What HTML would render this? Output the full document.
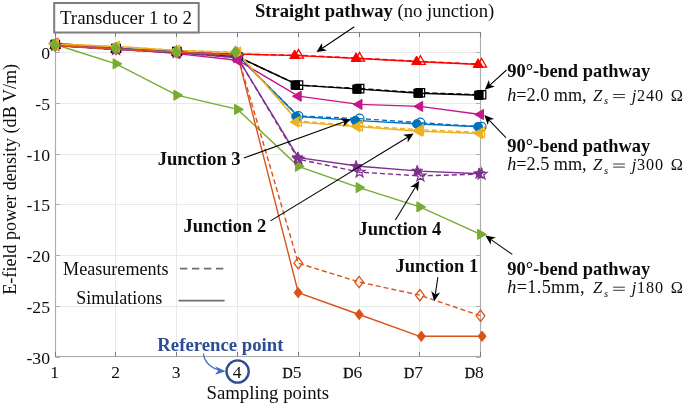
<!DOCTYPE html>
<html><head><meta charset="utf-8"><title>chart</title>
<style>
html,body{margin:0;padding:0;background:#fff;}
body{width:685px;height:406px;overflow:hidden;font-family:"Liberation Serif",serif;}
svg{display:block;will-change:transform;}
</style></head><body>
<svg width="685" height="406" viewBox="0 0 685 406" font-family="'Liberation Serif', serif" fill="#0d0d0d">
<rect x="0" y="0" width="685" height="406" fill="#fff"/>
<line x1="115.5" y1="32.5" x2="115.5" y2="356.5" stroke="#e9e9e9" stroke-width="1"/>
<line x1="176.5" y1="32.5" x2="176.5" y2="356.5" stroke="#e9e9e9" stroke-width="1"/>
<line x1="237.5" y1="32.5" x2="237.5" y2="356.5" stroke="#e9e9e9" stroke-width="1"/>
<line x1="298.5" y1="32.5" x2="298.5" y2="356.5" stroke="#e9e9e9" stroke-width="1"/>
<line x1="359.5" y1="32.5" x2="359.5" y2="356.5" stroke="#e9e9e9" stroke-width="1"/>
<line x1="419.5" y1="32.5" x2="419.5" y2="356.5" stroke="#e9e9e9" stroke-width="1"/>
<line x1="55.3" y1="52.5" x2="480.6" y2="52.5" stroke="#e9e9e9" stroke-width="1"/>
<line x1="55.3" y1="103.5" x2="480.6" y2="103.5" stroke="#e9e9e9" stroke-width="1"/>
<line x1="55.3" y1="154.5" x2="480.6" y2="154.5" stroke="#e9e9e9" stroke-width="1"/>
<line x1="55.3" y1="204.5" x2="480.6" y2="204.5" stroke="#e9e9e9" stroke-width="1"/>
<line x1="55.3" y1="255.5" x2="480.6" y2="255.5" stroke="#e9e9e9" stroke-width="1"/>
<line x1="55.3" y1="306.5" x2="480.6" y2="306.5" stroke="#e9e9e9" stroke-width="1"/>
<rect x="55.5" y="32.5" width="425" height="324.0" fill="none" stroke="#adadad" stroke-width="1.15"/>
<line x1="55" y1="32.5" x2="481" y2="32.5" stroke="#8f8f8f" stroke-width="1.1"/>
<line x1="55.5" y1="356.5" x2="55.5" y2="352.0" stroke="#7a7a7a" stroke-width="1"/>
<line x1="55.5" y1="32.5" x2="55.5" y2="37.0" stroke="#7a7a7a" stroke-width="1"/>
<line x1="115.5" y1="356.5" x2="115.5" y2="352.0" stroke="#7a7a7a" stroke-width="1"/>
<line x1="115.5" y1="32.5" x2="115.5" y2="37.0" stroke="#7a7a7a" stroke-width="1"/>
<line x1="176.5" y1="356.5" x2="176.5" y2="352.0" stroke="#7a7a7a" stroke-width="1"/>
<line x1="176.5" y1="32.5" x2="176.5" y2="37.0" stroke="#7a7a7a" stroke-width="1"/>
<line x1="237.5" y1="356.5" x2="237.5" y2="352.0" stroke="#7a7a7a" stroke-width="1"/>
<line x1="237.5" y1="32.5" x2="237.5" y2="37.0" stroke="#7a7a7a" stroke-width="1"/>
<line x1="298.5" y1="356.5" x2="298.5" y2="352.0" stroke="#7a7a7a" stroke-width="1"/>
<line x1="298.5" y1="32.5" x2="298.5" y2="37.0" stroke="#7a7a7a" stroke-width="1"/>
<line x1="359.5" y1="356.5" x2="359.5" y2="352.0" stroke="#7a7a7a" stroke-width="1"/>
<line x1="359.5" y1="32.5" x2="359.5" y2="37.0" stroke="#7a7a7a" stroke-width="1"/>
<line x1="419.5" y1="356.5" x2="419.5" y2="352.0" stroke="#7a7a7a" stroke-width="1"/>
<line x1="419.5" y1="32.5" x2="419.5" y2="37.0" stroke="#7a7a7a" stroke-width="1"/>
<line x1="480.5" y1="356.5" x2="480.5" y2="352.0" stroke="#7a7a7a" stroke-width="1"/>
<line x1="480.5" y1="32.5" x2="480.5" y2="37.0" stroke="#7a7a7a" stroke-width="1"/>
<line x1="55.5" y1="52.5" x2="60" y2="52.5" stroke="#adadad" stroke-width="1"/>
<line x1="480.5" y1="52.5" x2="476" y2="52.5" stroke="#adadad" stroke-width="1"/>
<line x1="55.5" y1="103.5" x2="60" y2="103.5" stroke="#adadad" stroke-width="1"/>
<line x1="480.5" y1="103.5" x2="476" y2="103.5" stroke="#adadad" stroke-width="1"/>
<line x1="55.5" y1="154.5" x2="60" y2="154.5" stroke="#adadad" stroke-width="1"/>
<line x1="480.5" y1="154.5" x2="476" y2="154.5" stroke="#adadad" stroke-width="1"/>
<line x1="55.5" y1="204.5" x2="60" y2="204.5" stroke="#adadad" stroke-width="1"/>
<line x1="480.5" y1="204.5" x2="476" y2="204.5" stroke="#adadad" stroke-width="1"/>
<line x1="55.5" y1="255.5" x2="60" y2="255.5" stroke="#adadad" stroke-width="1"/>
<line x1="480.5" y1="255.5" x2="476" y2="255.5" stroke="#adadad" stroke-width="1"/>
<line x1="55.5" y1="306.5" x2="60" y2="306.5" stroke="#adadad" stroke-width="1"/>
<line x1="480.5" y1="306.5" x2="476" y2="306.5" stroke="#adadad" stroke-width="1"/>
<line x1="55.5" y1="357.5" x2="60" y2="357.5" stroke="#adadad" stroke-width="1"/>
<line x1="480.5" y1="357.5" x2="476" y2="357.5" stroke="#adadad" stroke-width="1"/>
<polyline points="55.3,45.5 116.0,49.0 176.8,52.1 237.6,54.1 298.3,55.3 359.1,58.2 419.8,61.4 480.6,64.2" fill="none" stroke="#ff0000" stroke-width="1.4" stroke-dasharray="5,3"/>
<polyline points="55.3,45.5 116.0,49.0 176.8,52.1 237.6,54.1 298.3,55.6 359.1,58.5 419.8,61.7 480.6,64.5" fill="none" stroke="#ff0000" stroke-width="1.4"/>
<polyline points="55.3,44.5 116.0,48.5 176.8,51.6 237.6,56.7 298.3,85.1 359.1,88.6 419.8,92.7 480.6,94.7" fill="none" stroke="#000000" stroke-width="1.4" stroke-dasharray="5,3"/>
<polyline points="55.3,44.5 116.0,48.5 176.8,51.6 237.6,56.7 298.3,85.1 359.1,89.1 419.8,93.2 480.6,95.2" fill="none" stroke="#000000" stroke-width="1.4"/>
<polyline points="55.3,44.5 116.0,48.5 176.8,51.6 237.6,55.6 298.3,116.0 359.1,118.6 419.8,122.6 480.6,126.7" fill="none" stroke="#0072bd" stroke-width="1.4" stroke-dasharray="5,3"/>
<polyline points="55.3,44.5 116.0,48.5 176.8,51.6 237.6,55.6 298.3,116.5 359.1,120.6 419.8,124.0 480.6,126.7" fill="none" stroke="#0072bd" stroke-width="1.4"/>
<polyline points="55.3,43.0 116.0,48.5 176.8,53.6 237.6,60.2 298.3,96.2 359.1,104.4 419.8,106.4 480.6,114.5" fill="none" stroke="#c5168c" stroke-width="1.4"/>
<polyline points="55.3,44.5 116.0,63.8 176.8,95.2 237.6,109.4 298.3,166.3 359.1,187.6 419.8,206.9 480.6,234.3" fill="none" stroke="#77ac30" stroke-width="1.4"/>
<polyline points="55.3,45.5 116.0,49.6 176.8,52.6 237.6,57.7 298.3,159.2 359.1,172.1 419.8,175.9 480.6,174.1" fill="none" stroke="#7e2f8e" stroke-width="1.4" stroke-dasharray="5,3"/>
<polyline points="55.3,45.5 116.0,49.6 176.8,52.6 237.6,57.7 298.3,157.7 359.1,166.3 419.8,171.1 480.6,173.7" fill="none" stroke="#7e2f8e" stroke-width="1.4"/>
<polyline points="55.3,45.5 116.0,49.0 176.8,52.1 237.6,55.1 298.3,263.2 359.1,282.0 419.8,295.2 480.6,315.8" fill="none" stroke="#d95319" stroke-width="1.4" stroke-dasharray="5,3"/>
<polyline points="55.3,45.5 116.0,49.0 176.8,52.1 237.6,55.1 298.3,292.6 359.1,314.5 419.8,336.3 480.6,336.3" fill="none" stroke="#d95319" stroke-width="1.4"/>
<polyline points="55.3,44.0 116.0,46.5 176.8,50.4 237.6,52.4 298.3,121.1 359.1,125.7 419.8,129.7 480.6,132.3" fill="none" stroke="#edb120" stroke-width="1.4" stroke-dasharray="5,3"/>
<polyline points="55.3,44.0 116.0,46.5 176.8,50.4 237.6,52.4 298.3,122.1 359.1,126.7 419.8,131.3 480.6,133.5" fill="none" stroke="#edb120" stroke-width="1.4"/>
<polygon points="55.3,39.7 50.3,48.4 60.3,48.4" fill="#ff0000" stroke="#ff0000" stroke-width="1.0" stroke-linejoin="miter"/>
<polygon points="116.0,43.3 111.0,51.9 121.0,51.9" fill="#ff0000" stroke="#ff0000" stroke-width="1.0" stroke-linejoin="miter"/>
<polygon points="176.8,46.3 171.8,55.0 181.8,55.0" fill="#ff0000" stroke="#ff0000" stroke-width="1.0" stroke-linejoin="miter"/>
<polygon points="237.6,48.3 232.6,57.0 242.6,57.0" fill="#ff0000" stroke="#ff0000" stroke-width="1.0" stroke-linejoin="miter"/>
<polygon points="294.7,49.9 289.7,58.5 299.7,58.5" fill="#ff0000" stroke="#ff0000" stroke-width="1.0" stroke-linejoin="miter"/>
<polygon points="356.1,52.7 351.1,61.4 361.1,61.4" fill="#ff0000" stroke="#ff0000" stroke-width="1.0" stroke-linejoin="miter"/>
<polygon points="416.6,56.0 411.6,64.6 421.6,64.6" fill="#ff0000" stroke="#ff0000" stroke-width="1.0" stroke-linejoin="miter"/>
<polygon points="478.1,58.7 473.1,67.4 483.1,67.4" fill="#ff0000" stroke="#ff0000" stroke-width="1.0" stroke-linejoin="miter"/>
<polygon points="55.3,39.7 50.3,48.4 60.3,48.4" fill="none" stroke="#ff0000" stroke-width="1.25" stroke-linejoin="miter"/>
<polygon points="116.0,43.3 111.0,51.9 121.0,51.9" fill="none" stroke="#ff0000" stroke-width="1.25" stroke-linejoin="miter"/>
<polygon points="176.8,46.3 171.8,55.0 181.8,55.0" fill="none" stroke="#ff0000" stroke-width="1.25" stroke-linejoin="miter"/>
<polygon points="237.6,48.3 232.6,57.0 242.6,57.0" fill="none" stroke="#ff0000" stroke-width="1.25" stroke-linejoin="miter"/>
<polygon points="298.5,49.6 293.5,58.2 303.5,58.2" fill="none" stroke="#ff0000" stroke-width="1.25" stroke-linejoin="miter"/>
<polygon points="359.6,52.4 354.6,61.1 364.6,61.1" fill="none" stroke="#ff0000" stroke-width="1.25" stroke-linejoin="miter"/>
<polygon points="420.4,55.7 415.4,64.3 425.4,64.3" fill="none" stroke="#ff0000" stroke-width="1.25" stroke-linejoin="miter"/>
<polygon points="481.6,58.4 476.6,67.1 486.6,67.1" fill="none" stroke="#ff0000" stroke-width="1.25" stroke-linejoin="miter"/>
<polygon points="51.1,40.3 59.5,40.3 59.5,48.7 51.1,48.7" fill="#000000" stroke="#000000" stroke-width="1.0" stroke-linejoin="miter"/>
<polygon points="111.8,44.3 120.2,44.3 120.2,52.7 111.8,52.7" fill="#000000" stroke="#000000" stroke-width="1.0" stroke-linejoin="miter"/>
<polygon points="172.6,47.4 181.0,47.4 181.0,55.8 172.6,55.8" fill="#000000" stroke="#000000" stroke-width="1.0" stroke-linejoin="miter"/>
<polygon points="233.4,52.5 241.8,52.5 241.8,60.9 233.4,60.9" fill="#000000" stroke="#000000" stroke-width="1.0" stroke-linejoin="miter"/>
<polygon points="291.1,80.9 299.5,80.9 299.5,89.3 291.1,89.3" fill="#000000" stroke="#000000" stroke-width="1.0" stroke-linejoin="miter"/>
<polygon points="352.8,84.9 361.1,84.9 361.1,93.3 352.8,93.3" fill="#000000" stroke="#000000" stroke-width="1.0" stroke-linejoin="miter"/>
<polygon points="413.9,89.0 422.3,89.0 422.3,97.4 413.9,97.4" fill="#000000" stroke="#000000" stroke-width="1.0" stroke-linejoin="miter"/>
<polygon points="474.7,91.0 483.1,91.0 483.1,99.4 474.7,99.4" fill="#000000" stroke="#000000" stroke-width="1.0" stroke-linejoin="miter"/>
<polygon points="51.1,40.3 59.5,40.3 59.5,48.7 51.1,48.7" fill="none" stroke="#000000" stroke-width="1.25" stroke-linejoin="miter"/>
<polygon points="111.8,44.3 120.2,44.3 120.2,52.7 111.8,52.7" fill="none" stroke="#000000" stroke-width="1.25" stroke-linejoin="miter"/>
<polygon points="172.6,47.4 181.0,47.4 181.0,55.8 172.6,55.8" fill="none" stroke="#000000" stroke-width="1.25" stroke-linejoin="miter"/>
<polygon points="233.4,52.5 241.8,52.5 241.8,60.9 233.4,60.9" fill="none" stroke="#000000" stroke-width="1.25" stroke-linejoin="miter"/>
<polygon points="294.3,80.9 302.7,80.9 302.7,89.3 294.3,89.3" fill="none" stroke="#000000" stroke-width="1.25" stroke-linejoin="miter"/>
<polygon points="355.4,84.4 363.8,84.4 363.8,92.8 355.4,92.8" fill="none" stroke="#000000" stroke-width="1.25" stroke-linejoin="miter"/>
<polygon points="416.2,88.5 424.6,88.5 424.6,96.9 416.2,96.9" fill="none" stroke="#000000" stroke-width="1.25" stroke-linejoin="miter"/>
<polygon points="477.4,90.5 485.8,90.5 485.8,98.9 477.4,98.9" fill="none" stroke="#000000" stroke-width="1.25" stroke-linejoin="miter"/>
<circle cx="55.3" cy="44.5" r="4.4" fill="#0072bd" stroke="#0072bd" stroke-width="1.0"/>
<circle cx="116.0" cy="48.5" r="4.4" fill="#0072bd" stroke="#0072bd" stroke-width="1.0"/>
<circle cx="176.8" cy="51.6" r="4.4" fill="#0072bd" stroke="#0072bd" stroke-width="1.0"/>
<circle cx="237.6" cy="55.6" r="4.4" fill="#0072bd" stroke="#0072bd" stroke-width="1.0"/>
<circle cx="296.1" cy="116.5" r="4.4" fill="#0072bd" stroke="#0072bd" stroke-width="1.0"/>
<circle cx="355.4" cy="120.6" r="4.4" fill="#0072bd" stroke="#0072bd" stroke-width="1.0"/>
<circle cx="416.9" cy="124.0" r="4.4" fill="#0072bd" stroke="#0072bd" stroke-width="1.0"/>
<circle cx="478.1" cy="126.7" r="4.4" fill="#0072bd" stroke="#0072bd" stroke-width="1.0"/>
<circle cx="55.3" cy="44.5" r="4.4" fill="none" stroke="#0072bd" stroke-width="1.25"/>
<circle cx="116.0" cy="48.5" r="4.4" fill="none" stroke="#0072bd" stroke-width="1.25"/>
<circle cx="176.8" cy="51.6" r="4.4" fill="none" stroke="#0072bd" stroke-width="1.25"/>
<circle cx="237.6" cy="55.6" r="4.4" fill="none" stroke="#0072bd" stroke-width="1.25"/>
<circle cx="298.5" cy="116.0" r="4.4" fill="none" stroke="#0072bd" stroke-width="1.25"/>
<circle cx="359.6" cy="118.6" r="4.4" fill="none" stroke="#0072bd" stroke-width="1.25"/>
<circle cx="420.4" cy="122.6" r="4.4" fill="none" stroke="#0072bd" stroke-width="1.25"/>
<circle cx="481.6" cy="126.7" r="4.4" fill="none" stroke="#0072bd" stroke-width="1.25"/>
<polygon points="49.4,43.0 58.2,37.9 58.2,48.1" fill="#c5168c" stroke="#c5168c" stroke-width="1.0" stroke-linejoin="miter"/>
<polygon points="110.2,48.5 119.0,43.4 119.0,53.6" fill="#c5168c" stroke="#c5168c" stroke-width="1.0" stroke-linejoin="miter"/>
<polygon points="170.9,53.6 179.7,48.5 179.7,58.7" fill="#c5168c" stroke="#c5168c" stroke-width="1.0" stroke-linejoin="miter"/>
<polygon points="231.7,60.2 240.5,55.1 240.5,65.3" fill="#c5168c" stroke="#c5168c" stroke-width="1.0" stroke-linejoin="miter"/>
<polygon points="292.4,96.2 301.2,91.1 301.2,101.3" fill="#c5168c" stroke="#c5168c" stroke-width="1.0" stroke-linejoin="miter"/>
<polygon points="353.2,104.4 362.0,99.3 362.0,109.5" fill="#c5168c" stroke="#c5168c" stroke-width="1.0" stroke-linejoin="miter"/>
<polygon points="413.9,106.4 422.7,101.3 422.7,111.5" fill="#c5168c" stroke="#c5168c" stroke-width="1.0" stroke-linejoin="miter"/>
<polygon points="474.7,114.5 483.5,109.4 483.5,119.6" fill="#c5168c" stroke="#c5168c" stroke-width="1.0" stroke-linejoin="miter"/>
<polygon points="61.2,44.5 52.4,39.4 52.4,49.6" fill="#77ac30" stroke="#77ac30" stroke-width="1.0" stroke-linejoin="miter"/>
<polygon points="121.9,63.8 113.1,58.7 113.1,68.9" fill="#77ac30" stroke="#77ac30" stroke-width="1.0" stroke-linejoin="miter"/>
<polygon points="182.7,95.2 173.9,90.1 173.9,100.3" fill="#77ac30" stroke="#77ac30" stroke-width="1.0" stroke-linejoin="miter"/>
<polygon points="243.4,109.4 234.6,104.3 234.6,114.5" fill="#77ac30" stroke="#77ac30" stroke-width="1.0" stroke-linejoin="miter"/>
<polygon points="304.2,166.3 295.4,161.2 295.4,171.4" fill="#77ac30" stroke="#77ac30" stroke-width="1.0" stroke-linejoin="miter"/>
<polygon points="364.9,187.6 356.1,182.5 356.1,192.7" fill="#77ac30" stroke="#77ac30" stroke-width="1.0" stroke-linejoin="miter"/>
<polygon points="425.7,206.9 416.9,201.8 416.9,212.0" fill="#77ac30" stroke="#77ac30" stroke-width="1.0" stroke-linejoin="miter"/>
<polygon points="486.4,234.3 477.6,229.2 477.6,239.4" fill="#77ac30" stroke="#77ac30" stroke-width="1.0" stroke-linejoin="miter"/>
<polygon points="55.3,39.7 56.7,43.6 60.8,43.7 57.5,46.2 58.7,50.1 55.3,47.8 51.9,50.1 53.1,46.2 49.8,43.7 53.9,43.6" fill="#7e2f8e" stroke="#7e2f8e" stroke-width="1.0" stroke-linejoin="miter"/>
<polygon points="116.0,43.8 117.4,47.7 121.5,47.8 118.2,50.3 119.4,54.2 116.0,51.9 112.7,54.2 113.9,50.3 110.6,47.8 114.7,47.7" fill="#7e2f8e" stroke="#7e2f8e" stroke-width="1.0" stroke-linejoin="miter"/>
<polygon points="176.8,46.9 178.2,50.7 182.3,50.8 179.0,53.3 180.2,57.3 176.8,54.9 173.4,57.3 174.6,53.3 171.3,50.8 175.4,50.7" fill="#7e2f8e" stroke="#7e2f8e" stroke-width="1.0" stroke-linejoin="miter"/>
<polygon points="237.6,51.9 238.9,55.8 243.0,55.9 239.7,58.4 240.9,62.3 237.6,60.0 234.2,62.3 235.4,58.4 232.1,55.9 236.2,55.8" fill="#7e2f8e" stroke="#7e2f8e" stroke-width="1.0" stroke-linejoin="miter"/>
<polygon points="297.6,151.9 299.0,155.8 303.1,155.9 299.8,158.4 301.0,162.3 297.6,160.0 294.2,162.3 295.4,158.4 292.1,155.9 296.2,155.8" fill="#7e2f8e" stroke="#7e2f8e" stroke-width="1.0" stroke-linejoin="miter"/>
<polygon points="356.1,160.5 357.4,164.4 361.5,164.5 358.2,167.0 359.4,170.9 356.1,168.6 352.7,170.9 353.9,167.0 350.6,164.5 354.7,164.4" fill="#7e2f8e" stroke="#7e2f8e" stroke-width="1.0" stroke-linejoin="miter"/>
<polygon points="417.2,165.3 418.6,169.2 422.7,169.3 419.4,171.8 420.6,175.7 417.2,173.4 413.8,175.7 415.0,171.8 411.7,169.3 415.8,169.2" fill="#7e2f8e" stroke="#7e2f8e" stroke-width="1.0" stroke-linejoin="miter"/>
<polygon points="479.1,167.9 480.4,171.8 484.5,171.9 481.2,174.4 482.4,178.3 479.1,176.0 475.7,178.3 476.9,174.4 473.6,171.9 477.7,171.8" fill="#7e2f8e" stroke="#7e2f8e" stroke-width="1.0" stroke-linejoin="miter"/>
<polygon points="55.3,39.7 56.7,43.6 60.8,43.7 57.5,46.2 58.7,50.1 55.3,47.8 51.9,50.1 53.1,46.2 49.8,43.7 53.9,43.6" fill="none" stroke="#7e2f8e" stroke-width="1.25" stroke-linejoin="miter"/>
<polygon points="116.0,43.8 117.4,47.7 121.5,47.8 118.2,50.3 119.4,54.2 116.0,51.9 112.7,54.2 113.9,50.3 110.6,47.8 114.7,47.7" fill="none" stroke="#7e2f8e" stroke-width="1.25" stroke-linejoin="miter"/>
<polygon points="176.8,46.9 178.2,50.7 182.3,50.8 179.0,53.3 180.2,57.3 176.8,54.9 173.4,57.3 174.6,53.3 171.3,50.8 175.4,50.7" fill="none" stroke="#7e2f8e" stroke-width="1.25" stroke-linejoin="miter"/>
<polygon points="237.6,51.9 238.9,55.8 243.0,55.9 239.7,58.4 240.9,62.3 237.6,60.0 234.2,62.3 235.4,58.4 232.1,55.9 236.2,55.8" fill="none" stroke="#7e2f8e" stroke-width="1.25" stroke-linejoin="miter"/>
<polygon points="298.5,153.4 299.9,157.3 304.0,157.4 300.7,159.9 301.9,163.8 298.5,161.5 295.1,163.8 296.3,159.9 293.0,157.4 297.1,157.3" fill="none" stroke="#7e2f8e" stroke-width="1.25" stroke-linejoin="miter"/>
<polygon points="359.6,166.3 360.9,170.2 365.0,170.3 361.7,172.8 362.9,176.7 359.6,174.4 356.2,176.7 357.4,172.8 354.1,170.3 358.2,170.2" fill="none" stroke="#7e2f8e" stroke-width="1.25" stroke-linejoin="miter"/>
<polygon points="420.4,170.2 421.8,174.1 425.9,174.1 422.6,176.6 423.8,180.6 420.4,178.2 417.0,180.6 418.2,176.6 414.9,174.1 419.0,174.1" fill="none" stroke="#7e2f8e" stroke-width="1.25" stroke-linejoin="miter"/>
<polygon points="481.6,168.3 482.9,172.2 487.0,172.3 483.7,174.8 484.9,178.7 481.6,176.4 478.2,178.7 479.4,174.8 476.1,172.3 480.2,172.2" fill="none" stroke="#7e2f8e" stroke-width="1.25" stroke-linejoin="miter"/>
<polygon points="55.3,40.3 59.3,45.5 55.3,50.7 51.3,45.5" fill="#d95319" stroke="#d95319" stroke-width="1.0" stroke-linejoin="miter"/>
<polygon points="116.0,43.8 120.0,49.0 116.0,54.2 112.0,49.0" fill="#d95319" stroke="#d95319" stroke-width="1.0" stroke-linejoin="miter"/>
<polygon points="176.8,46.9 180.8,52.1 176.8,57.3 172.8,52.1" fill="#d95319" stroke="#d95319" stroke-width="1.0" stroke-linejoin="miter"/>
<polygon points="237.6,49.9 241.6,55.1 237.6,60.3 233.6,55.1" fill="#d95319" stroke="#d95319" stroke-width="1.0" stroke-linejoin="miter"/>
<polygon points="298.1,287.4 302.1,292.6 298.1,297.8 294.1,292.6" fill="#d95319" stroke="#d95319" stroke-width="1.0" stroke-linejoin="miter"/>
<polygon points="359.2,309.3 363.2,314.5 359.2,319.7 355.2,314.5" fill="#d95319" stroke="#d95319" stroke-width="1.0" stroke-linejoin="miter"/>
<polygon points="421.3,331.1 425.3,336.3 421.3,341.5 417.3,336.3" fill="#d95319" stroke="#d95319" stroke-width="1.0" stroke-linejoin="miter"/>
<polygon points="482.1,331.1 486.1,336.3 482.1,341.5 478.1,336.3" fill="#d95319" stroke="#d95319" stroke-width="1.0" stroke-linejoin="miter"/>
<polygon points="55.3,39.8 59.7,45.5 55.3,51.2 50.9,45.5" fill="none" stroke="#d95319" stroke-width="1.25" stroke-linejoin="miter"/>
<polygon points="116.0,43.3 120.5,49.0 116.0,54.8 111.6,49.0" fill="none" stroke="#d95319" stroke-width="1.25" stroke-linejoin="miter"/>
<polygon points="176.8,46.4 181.2,52.1 176.8,57.8 172.4,52.1" fill="none" stroke="#d95319" stroke-width="1.25" stroke-linejoin="miter"/>
<polygon points="237.6,49.4 242.0,55.1 237.6,60.9 233.2,55.1" fill="none" stroke="#d95319" stroke-width="1.25" stroke-linejoin="miter"/>
<polygon points="298.3,257.5 302.7,263.2 298.3,268.9 293.9,263.2" fill="none" stroke="#d95319" stroke-width="1.25" stroke-linejoin="miter"/>
<polygon points="359.1,276.3 363.4,282.0 359.1,287.7 354.7,282.0" fill="none" stroke="#d95319" stroke-width="1.25" stroke-linejoin="miter"/>
<polygon points="419.8,289.5 424.2,295.2 419.8,300.9 415.4,295.2" fill="none" stroke="#d95319" stroke-width="1.25" stroke-linejoin="miter"/>
<polygon points="480.6,310.1 484.9,315.8 480.6,321.5 476.2,315.8" fill="none" stroke="#d95319" stroke-width="1.25" stroke-linejoin="miter"/>
<polygon points="49.4,44.0 58.2,38.9 58.2,49.1" fill="#edb120" stroke="#edb120" stroke-width="1.0" stroke-linejoin="miter"/>
<polygon points="110.2,46.5 119.0,41.4 119.0,51.6" fill="#edb120" stroke="#edb120" stroke-width="1.0" stroke-linejoin="miter"/>
<polygon points="170.9,50.4 179.7,45.3 179.7,55.5" fill="#edb120" stroke="#edb120" stroke-width="1.0" stroke-linejoin="miter"/>
<polygon points="231.7,52.4 240.5,47.3 240.5,57.5" fill="#edb120" stroke="#edb120" stroke-width="1.0" stroke-linejoin="miter"/>
<polygon points="290.0,122.1 298.8,117.0 298.8,127.2" fill="#edb120" stroke="#edb120" stroke-width="1.0" stroke-linejoin="miter"/>
<polygon points="351.2,126.7 360.0,121.6 360.0,131.8" fill="#edb120" stroke="#edb120" stroke-width="1.0" stroke-linejoin="miter"/>
<polygon points="413.6,131.3 422.4,126.2 422.4,136.4" fill="#edb120" stroke="#edb120" stroke-width="1.0" stroke-linejoin="miter"/>
<polygon points="473.7,133.5 482.5,128.4 482.5,138.6" fill="#edb120" stroke="#edb120" stroke-width="1.0" stroke-linejoin="miter"/>
<polygon points="49.4,44.0 58.2,38.9 58.2,49.1" fill="none" stroke="#edb120" stroke-width="1.25" stroke-linejoin="miter"/>
<polygon points="110.2,46.5 119.0,41.4 119.0,51.6" fill="none" stroke="#edb120" stroke-width="1.25" stroke-linejoin="miter"/>
<polygon points="170.9,50.4 179.7,45.3 179.7,55.5" fill="none" stroke="#edb120" stroke-width="1.25" stroke-linejoin="miter"/>
<polygon points="231.7,52.4 240.5,47.3 240.5,57.5" fill="none" stroke="#edb120" stroke-width="1.25" stroke-linejoin="miter"/>
<polygon points="292.6,121.1 301.4,116.0 301.4,126.2" fill="none" stroke="#edb120" stroke-width="1.25" stroke-linejoin="miter"/>
<polygon points="353.7,125.7 362.5,120.6 362.5,130.8" fill="none" stroke="#edb120" stroke-width="1.25" stroke-linejoin="miter"/>
<polygon points="414.5,129.7 423.3,124.6 423.3,134.8" fill="none" stroke="#edb120" stroke-width="1.25" stroke-linejoin="miter"/>
<polygon points="475.7,132.3 484.5,127.2 484.5,137.4" fill="none" stroke="#edb120" stroke-width="1.25" stroke-linejoin="miter"/>
<polygon points="54.7,39.3 59.3,45.3 54.7,51.3 50.1,45.3" fill="#77ac30" stroke="#77ac30" stroke-width="1.0" stroke-linejoin="miter"/>
<polygon points="115.5,42.3 120.0,48.2 115.5,54.2 110.9,48.2" fill="#77ac30" stroke="#77ac30" stroke-width="1.0" stroke-linejoin="miter"/>
<polygon points="176.2,46.2 180.8,52.2 176.2,58.2 171.6,52.2" fill="#77ac30" stroke="#77ac30" stroke-width="1.0" stroke-linejoin="miter"/>
<polygon points="235.5,45.9 240.1,51.9 235.5,57.9 230.9,51.9" fill="#77ac30" stroke="#77ac30" stroke-width="1.0" stroke-linejoin="miter"/>
<polygon points="232.6,60.5 241.2,55.5 241.2,65.5" fill="#c5168c" stroke="#c5168c" stroke-width="1.0" stroke-linejoin="miter"/>
<line x1="354.3" y1="26.8" x2="322.3" y2="48.2" stroke="#000" stroke-width="1.05"/><polygon points="316.5,52.0 322.0,42.9 322.3,48.2 327.0,50.4" fill="#000"/>
<line x1="506.5" y1="70.0" x2="489.9" y2="85.1" stroke="#000" stroke-width="1.05"/><polygon points="484.8,89.7 488.9,79.9 489.9,85.1 494.9,86.6" fill="#000"/>
<line x1="505.9" y1="137.7" x2="489.1" y2="120.1" stroke="#000" stroke-width="1.05"/><polygon points="484.3,115.1 494.2,118.9 489.1,120.1 487.7,125.1" fill="#000"/>
<line x1="512.3" y1="254.4" x2="491.1" y2="239.6" stroke="#000" stroke-width="1.05"/><polygon points="485.4,235.6 495.8,237.4 491.1,239.6 490.7,244.8" fill="#000"/>
<line x1="243.9" y1="158.0" x2="344.3" y2="121.7" stroke="#000" stroke-width="1.05"/><polygon points="350.8,119.3 343.3,126.8 344.3,121.7 340.2,118.3" fill="#000"/>
<line x1="270.5" y1="220.9" x2="407.7" y2="137.2" stroke="#000" stroke-width="1.05"/><polygon points="413.6,133.6 407.7,142.4 407.7,137.2 403.1,134.8" fill="#000"/>
<line x1="395.4" y1="219.9" x2="415.5" y2="187.0" stroke="#000" stroke-width="1.05"/><polygon points="419.1,181.1 417.9,191.6 415.5,187.0 410.3,186.9" fill="#000"/>
<line x1="437.9" y1="277.2" x2="435.3" y2="294.4" stroke="#000" stroke-width="1.05"/><polygon points="434.2,301.2 431.2,291.0 435.3,294.4 440.1,292.4" fill="#000"/>
<line x1="180" y1="268.6" x2="224" y2="268.6" stroke="#6e6e6e" stroke-width="1.6" stroke-dasharray="7.3,4.7"/>
<line x1="178.5" y1="300.7" x2="224.6" y2="300.7" stroke="#6e6e6e" stroke-width="1.8"/>
<rect x="54.2" y="3.0" width="144.5" height="29.5" fill="#fff" stroke="#7d7d7d" stroke-width="2"/>
<circle cx="237.6" cy="371.5" r="11.1" fill="none" stroke="#2e4e94" stroke-width="2.4"/>
<path d="M203.4 353.6 Q205 366 219 370" fill="none" stroke="#3f6fbf" stroke-width="1.2"/>
<polygon points="225.6,371.2 215,366.2 218.2,370.2 215.2,374.8" fill="#3f6fbf"/>
<text x="54.7" y="377.6" font-size="17.5" text-anchor="middle" >1</text>
<text x="115.5" y="377.6" font-size="17.5" text-anchor="middle" >2</text>
<text x="176.2" y="377.6" font-size="17.5" text-anchor="middle" >3</text>
<text x="237.0" y="377.6" font-size="17.5" text-anchor="middle" >4</text>
<text x="291.9" y="377.6" font-size="17.5" text-anchor="middle" ><tspan font-size="14.2" stroke="#0d0d0d" stroke-width="0.4">D</tspan>5</text>
<text x="352.7" y="377.6" font-size="17.5" text-anchor="middle" ><tspan font-size="14.2" stroke="#0d0d0d" stroke-width="0.4">D</tspan>6</text>
<text x="413.4" y="377.6" font-size="17.5" text-anchor="middle" ><tspan font-size="14.2" stroke="#0d0d0d" stroke-width="0.4">D</tspan>7</text>
<text x="474.2" y="377.6" font-size="17.5" text-anchor="middle" ><tspan font-size="14.2" stroke="#0d0d0d" stroke-width="0.4">D</tspan>8</text>
<text x="50.0" y="59.2" font-size="17.7" text-anchor="end" >0</text>
<text x="50.0" y="109.9" font-size="17.7" text-anchor="end" >-5</text>
<text x="50.0" y="160.7" font-size="17.7" text-anchor="end" >-10</text>
<text x="50.0" y="211.4" font-size="17.7" text-anchor="end" >-15</text>
<text x="50.0" y="262.2" font-size="17.7" text-anchor="end" >-20</text>
<text x="50.0" y="313.0" font-size="17.7" text-anchor="end" >-25</text>
<text x="50.0" y="363.7" font-size="17.7" text-anchor="end" >-30</text>
<text x="267.8" y="398.6" font-size="18.8" text-anchor="middle" >Sampling points</text>
<text transform="translate(15.9,179.3) rotate(-90)" font-size="18.1" text-anchor="middle">E-field power density (dB V/m)</text>
<text x="126.0" y="24.0" font-size="18.9" text-anchor="middle" >Transducer 1 to 2</text>
<text x="255" y="16.5" font-size="18.6" text-anchor="start" ><tspan font-weight="bold">Straight pathway</tspan> (no junction)</text>
<text x="507.2" y="77.2" font-size="18.45" text-anchor="start" font-weight="bold">90°-bend pathway</text>
<text x="507.2" y="100.6" font-size="18.2" text-anchor="start" ><tspan font-style="italic">h</tspan>=2.0 mm,</text>
<text x="593.1" y="100.6" font-size="16.6" text-anchor="start" font-style="italic">Z</text><text x="604.1" y="104.0" font-size="10.5" text-anchor="start" font-style="italic">s</text><line x1="613.1" y1="94.5" x2="624.9" y2="94.5" stroke="#222" stroke-width="0.9"/><line x1="613.1" y1="97.6" x2="624.9" y2="97.6" stroke="#222" stroke-width="0.9"/><text x="631.7" y="100.6" font-size="16.6" text-anchor="start" font-style="italic">j</text><text x="637.0" y="100.6" font-size="16.2" text-anchor="start" letter-spacing="0.85">240</text><text x="670.8" y="100.6" font-size="16.4" text-anchor="start" >Ω</text>
<text x="507.2" y="151.9" font-size="18.45" text-anchor="start" font-weight="bold">90°-bend pathway</text>
<text x="507.2" y="170.1" font-size="18.2" text-anchor="start" ><tspan font-style="italic">h</tspan>=2.5 mm,</text>
<text x="593.1" y="170.1" font-size="16.6" text-anchor="start" font-style="italic">Z</text><text x="604.1" y="173.5" font-size="10.5" text-anchor="start" font-style="italic">s</text><line x1="613.1" y1="164.0" x2="624.9" y2="164.0" stroke="#222" stroke-width="0.9"/><line x1="613.1" y1="167.1" x2="624.9" y2="167.1" stroke="#222" stroke-width="0.9"/><text x="631.7" y="170.1" font-size="16.6" text-anchor="start" font-style="italic">j</text><text x="637.0" y="170.1" font-size="16.2" text-anchor="start" letter-spacing="0.85">300</text><text x="670.8" y="170.1" font-size="16.4" text-anchor="start" >Ω</text>
<text x="507.2" y="274.5" font-size="18.45" text-anchor="start" font-weight="bold">90°-bend pathway</text>
<text x="507.2" y="293.3" font-size="18.2" text-anchor="start" letter-spacing="0.36"><tspan font-style="italic">h</tspan>=1.5mm,</text>
<text x="593.1" y="293.3" font-size="16.6" text-anchor="start" font-style="italic">Z</text><text x="604.1" y="296.7" font-size="10.5" text-anchor="start" font-style="italic">s</text><line x1="613.1" y1="287.2" x2="624.9" y2="287.2" stroke="#222" stroke-width="0.9"/><line x1="613.1" y1="290.3" x2="624.9" y2="290.3" stroke="#222" stroke-width="0.9"/><text x="631.7" y="293.3" font-size="16.6" text-anchor="start" font-style="italic">j</text><text x="637.0" y="293.3" font-size="16.2" text-anchor="start" letter-spacing="0.85">180</text><text x="670.8" y="293.3" font-size="16.4" text-anchor="start" >Ω</text>
<text x="157.8" y="165.1" font-size="18.5" text-anchor="start" font-weight="bold">Junction 3</text>
<text x="183.4" y="232.0" font-size="18.5" text-anchor="start" font-weight="bold">Junction 2</text>
<text x="358.5" y="234.7" font-size="18.5" text-anchor="start" font-weight="bold">Junction 4</text>
<text x="395.4" y="271.6" font-size="18.5" text-anchor="start" font-weight="bold">Junction 1</text>
<text x="63.1" y="274.5" font-size="18.1" text-anchor="start" >Measurements</text>
<text x="76.3" y="304.2" font-size="18.0" text-anchor="start" >Simulations</text>
<text x="157.3" y="350.7" font-size="18.75" text-anchor="start" font-weight="bold" fill="#2e4e94">Reference point</text>
</svg>
</body></html>
